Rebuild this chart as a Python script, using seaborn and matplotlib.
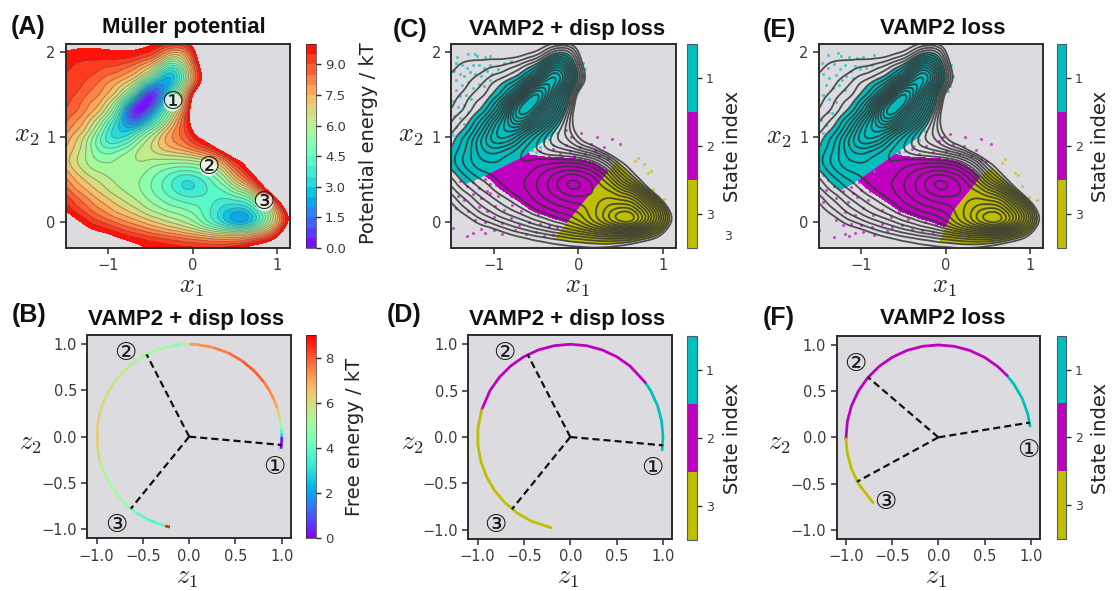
import numpy as np
import matplotlib
matplotlib.use('Agg')
import matplotlib.pyplot as plt
import matplotlib.tri as mtri
from matplotlib.collections import LineCollection
from matplotlib.colors import ListedColormap, BoundaryNorm, Normalize
from matplotlib.cm import ScalarMappable
from matplotlib.patches import Polygon
import seaborn as sns

W, H = 1112, 591
BG = '#dcdce0'
INK = '#2b2b2b'

# energy surface: a coarse grid plus its cell centres
grid_x = [-1.6, -1.4, -1.2, -1.0, -0.8, -0.6, -0.4, -0.2, 0.0, 0.2, 0.4, 0.6, 0.8, 1.0, 1.2]
grid_y = [-0.4, -0.2, 0.0, 0.2, 0.4, 0.6, 0.8, 1.0, 1.2, 1.4, 1.6, 1.8, 2.0, 2.2]
energy_rows = [
    [15, 14, 13.5, 13, 12, 10.4, 10.3, 10.4, 10.5, 10.4, 11, 12, 13, 14, 15],
    [13, 12, 11, 10.6, 10, 9.7, 9.4, 9.1, 8.7, 8.4, 8.2, 8.4, 9.2, 10.2, 14],
    [11.5, 10.4, 9.3, 8.7, 8.1, 7.5, 6.9, 6.3, 5.5, 4.0, 2.3, 1.2, 3.4, 7.0, 11],
    [10, 8.9, 8.1, 7.4, 6.7, 6.0, 5.4, 4.9, 4.6, 4.1, 3.3, 3.4, 5.2, 8.3, 13],
    [8.7, 7.8, 7.0, 6.3, 5.8, 5.4, 4.6, 3.7, 3.2, 4.0, 4.6, 6.2, 9.3, 13, 15],
    [7.9, 6.9, 6.0, 5.7, 5.8, 5.7, 5.0, 4.5, 4.5, 5.0, 6.6, 8.9, 11, 14, 15],
    [7.6, 6.6, 5.5, 5.0, 5.7, 6.4, 6.6, 6.8, 7.1, 8.0, 9.4, 10.6, 13, 15, 15],
    [8.2, 7.0, 5.4, 3.2, 3.3, 5.6, 7.1, 8.3, 9.3, 10.5, 13, 15, 15, 15, 15],
    [8.8, 7.9, 6.5, 4.3, 1.5, 1.5, 4.0, 7.5, 10.5, 14, 15, 15, 15, 15, 15],
    [9.3, 8.7, 7.7, 6.3, 2.9, -1.0, 1.8, 5.4, 10.5, 15, 15, 15, 15, 15, 15],
    [9.6, 9.2, 8.5, 7.6, 6.3, 3.3, 0.9, 3.8, 8.3, 12, 15, 15, 15, 15, 15],
    [9.7, 9.4, 9.1, 8.7, 8.1, 7.0, 4.9, 3.3, 8.0, 12.5, 15, 15, 15, 15, 15],
    [9.7, 9.7, 9.8, 9.9, 9.9, 9.7, 9.0, 7.3, 9.2, 14, 15, 15, 15, 15, 15],
    [10.5, 10.5, 10.5, 11, 11, 11, 10.5, 11.5, 12, 15, 15, 15, 15, 15, 15],
]
mid_x = [-1.5, -1.3, -1.1, -0.9, -0.7, -0.5, -0.3, -0.1, 0.1, 0.3, 0.5, 0.7, 0.9, 1.1]
mid_y = [-0.3, -0.1, 0.1, 0.3, 0.5, 0.7, 0.9, 1.1, 1.3, 1.5, 1.7, 1.9, 2.1]
mid_rows = [
    [14, 13, 12, 11, 10.3, 9.95, 9.7, 9.6, 9.5, 9.5, 9.7, 10.3, 11, 13],
    [12, 10.6, 9.9, 9.3, 8.6, 8.0, 7.4, 6.9, 6.2, 5.5, 5.2, 5.8, 7.6, 10.6],
    [10.2, 9.2, 8.3, 7.5, 6.9, 6.1, 5.6, 5.3, 4.6, 3.5, 2.2, 3.0, 5.4, 9.5],
    [9.3, 8.3, 7.3, 6.5, 5.9, 5.2, 4.5, 4.0, 4.1, 4.2, 4.5, 5.2, 8.5, 13],
    [8.3, 7.2, 6.5, 5.9, 5.6, 5.0, 4.2, 3.2, 3.8, 5.0, 7.3, 9.4, 12, 15],
    [7.2, 6.2, 5.6, 5.7, 5.9, 5.7, 5.5, 5.5, 5.7, 7.1, 9.5, 11.5, 14, 15],
    [7.7, 6.5, 4.6, 4.3, 5.5, 6.5, 7.7, 8.4, 9.6, 11, 14, 15, 15, 15],
    [8.4, 7.5, 5.5, 2.9, 2.9, 5.0, 7.3, 9.0, 12, 15, 15, 15, 15, 15],
    [9.0, 8.4, 7.3, 4.8, -0.3, 1.9, 4.8, 8.7, 14, 15, 15, 15, 15, 15],
    [9.3, 8.8, 8.3, 7.3, 4.5, -0.5, 3.5, 7.5, 13, 15, 15, 15, 15, 15],
    [9.4, 9.2, 8.8, 8.3, 7.5, 5.5, 1.6, 4.7, 9.6, 15, 15, 15, 15, 15],
    [9.7, 9.5, 9.5, 9.5, 9.2, 8.3, 5.5, 6.5, 10.8, 15, 15, 15, 15, 15],
    [10.5, 10.3, 10.2, 10.3, 10.4, 10.2, 9.5, 9.2, 12, 15, 15, 15, 15, 15],
]

c_bound12 = [(-1.6, 0.33), (-1.17, 0.51), (-0.65, 0.77), (-0.26, 1.06), (1.0, 1.4)]
c_bound23 = [(1.0, 1.4), (0.39, 0.63), (0.055, 0.217), (-0.36, -0.3), (-0.5, -0.4)]
e_bound12 = [(-1.6, 0.2), (-1.115, 0.44), (-0.76, 0.69), (-0.22, 1.07), (1.0, 1.4)]
e_bound23 = [(1.0, 1.4), (0.61, 0.69), (0.45, 0.575), (0.095, 0.14), (-0.04, -0.15), (-0.15, -0.4)]

# sparse simulation points
c_dots_1 = [(-1.44, 1.95), (-1.3, 1.98), (-1.22, 1.98), (-1.2, 1.96), (-1.1, 1.95), (-1.05, 1.96), (-1.45, 1.88),
            (-1.38, 1.85), (-1.32, 1.82), (-1.25, 1.85), (-1.18, 1.85), (-1.12, 1.82), (-1.05, 1.85), (-1.47, 1.78),
            (-1.4, 1.75), (-1.35, 1.72), (-1.28, 1.77), (-1.22, 1.74), (-1.15, 1.72), (-1.08, 1.78), (-1.02, 1.75),
            (-0.95, 1.8), (-0.88, 1.88), (-0.8, 1.9), (-1.45, 1.68), (-1.38, 1.62), (-1.3, 1.65), (-1.25, 1.58),
            (-1.18, 1.63), (-1.12, 1.6), (-1.05, 1.68), (-1.45, 1.55), (-1.4, 1.48), (-1.33, 1.5), (-1.27, 1.45),
            (-1.48, 1.42), (-1.42, 1.35), (-1.35, 1.38), (-1.47, 1.25), (-1.4, 1.22), (-1.45, 1.12), (-1.35, 1.15),
            (-1.48, 1.02), (-1.3, 1.3), (0.05, 1.72), (0.08, 1.8), (0.02, 1.62), (-0.02, 1.55), (0.06, 1.88),
            (-0.1, 1.4), (-0.35, 0.98), (-0.25, 1.05), (-0.3, 0.9), (-0.4, 0.95), (-0.45, 0.88), (-0.5, 0.82),
            (-0.55, 0.85), (-1.25, 0.62), (-1.3, 0.58), (-1.35, 0.62), (-1.4, 0.55), (-1.45, 0.6)]
c_dots_2 = [(-0.6, 0.8), (-0.5, 0.76), (-0.45, 0.83), (-0.35, 0.78), (-0.3, 0.86), (-0.22, 0.8), (-0.15, 0.9),
            (-0.1, 0.84), (-0.05, 0.78), (0.02, 0.88), (0.08, 0.8), (0.15, 0.92), (0.2, 0.84), (0.25, 0.78),
            (0.3, 0.88), (0.35, 0.75), (0.22, 1.0), (0.03, 1.05), (-0.08, 1.0), (-0.15, 1.08), (0.4, 0.98),
            (0.5, 0.92), (-1.4, 0.48), (-1.32, 0.42), (-1.25, 0.47), (-1.18, 0.4), (-1.1, 0.5), (-1.05, 0.44),
            (-0.98, 0.54), (-0.92, 0.48), (-0.85, 0.56), (-0.8, 0.62), (-0.75, 0.52), (-0.7, 0.6), (-0.65, 0.66),
            (-0.72, 0.44), (-0.62, 0.54), (-0.58, 0.4), (-0.5, 0.45), (-1.42, 0.3), (-1.35, 0.26), (-1.25, 0.33),
            (-1.15, 0.28), (-1.05, 0.34), (-0.95, 0.3), (-0.88, 0.38), (-0.8, 0.3), (-0.7, 0.28), (-0.62, 0.32),
            (-0.52, 0.25), (-0.45, 0.3), (-0.4, 0.2), (-0.32, 0.24), (-1.45, 0.16), (-1.3, 0.12), (-1.18, 0.17),
            (-1.08, 0.12), (-0.98, 0.18), (-0.88, 0.14), (-0.78, 0.2), (-0.68, 0.12), (-0.58, 0.16), (-0.48, 0.09),
            (-0.38, 0.1), (-0.28, 0.05), (-0.22, 0.14), (-0.18, 0.02), (-1.22, 0.02), (-1.1, 0.0), (-1.0, 0.05),
            (-0.9, -0.02), (-0.8, 0.04), (-0.7, -0.04), (-0.58, 0.0), (-0.45, -0.03), (-0.35, -0.05), (-0.25, -0.07),
            (-1.32, -0.17), (-1.25, -0.14), (-1.15, -0.09), (-1.1, -0.13), (-1.0, -0.1), (-0.9, -0.15), (-0.75, -0.1),
            (-0.62, -0.15), (-0.5, -0.12), (-0.4, -0.17), (-0.3, -0.16), (-1.48, -0.08),
            (-1.0, 0.5), (-0.95, 0.58), (-0.9, 0.53), (-0.88, 0.62), (-0.83, 0.5), (-0.8, 0.56), (-0.78, 0.66),
            (-0.76, 0.46), (-0.72, 0.55), (-0.7, 0.66), (-0.68, 0.5), (-0.66, 0.72), (-0.64, 0.44), (-0.6, 0.62),
            (-0.58, 0.72), (-0.56, 0.52), (-0.54, 0.35), (-0.52, 0.66), (-0.48, 0.58), (-0.46, 0.38), (-0.82, 0.42),
            (-0.9, 0.4), (-0.97, 0.43), (-1.08, 0.36), (-0.76, 0.36), (-0.66, 0.38), (-0.56, 0.28), (-0.42, 0.36),
            (-0.36, 0.3), (-0.3, 0.18), (-0.26, 0.28), (-0.15, 0.07), (-0.12, 0.12), (-0.4, 0.72), (-0.28, 0.74)]
c_dots_3 = [(0.67, 0.72), (0.71, 0.75), (0.83, 0.57), (0.86, 0.6), (0.88, 0.38), (1.02, 0.27), (0.95, 0.3), (0.78, 0.68)]

# sparse simulation points
e_dots_1 = [(-1.4, 1.97), (-1.28, 1.99), (-1.24, 1.96), (-1.15, 1.95), (-1.05, 1.93), (-0.98, 1.95), (-0.85, 1.97),
            (-1.47, 1.87), (-1.4, 1.82), (-1.33, 1.86), (-1.26, 1.8), (-1.2, 1.85), (-1.12, 1.78), (-1.08, 1.84),
            (-1.02, 1.8), (-0.95, 1.82), (-0.88, 1.85), (-1.46, 1.75), (-1.38, 1.7), (-1.3, 1.74), (-1.23, 1.68),
            (-1.18, 1.72), (-1.1, 1.7), (-1.42, 1.62), (-1.34, 1.58), (-1.27, 1.62), (-1.2, 1.56), (-1.45, 1.5),
            (-1.38, 1.45), (-1.3, 1.42), (-1.4, 1.3), (-1.48, 1.2), (-1.42, 1.15), (-1.35, 1.28), (-1.45, 1.05),
            (0.05, 1.6), (0.08, 1.72), (0.02, 1.55), (0.06, 1.85), (-0.32, 0.97), (-0.25, 1.07), (-0.38, 0.9),
            (-0.48, 0.84), (-0.55, 0.8), (-0.62, 0.72), (-0.85, 0.6), (-1.25, 0.56), (-1.3, 0.5), (-1.4, 0.5),
            (-1.46, 0.55)]
e_dots_2 = [(-0.55, 0.82), (-0.48, 0.74), (-0.4, 0.86), (-0.32, 0.8), (-0.24, 0.9), (-0.15, 0.83), (-0.08, 0.95),
            (0.0, 0.84), (0.08, 0.92), (0.15, 0.8), (0.22, 0.9), (0.3, 0.78), (0.36, 0.85), (0.42, 0.74), (0.48, 0.72),
            (0.05, 1.04), (-0.03, 1.0), (0.23, 1.0), (0.42, 0.98), (0.54, 0.92), (-1.42, 0.38), (-1.32, 0.42),
            (-1.22, 0.36), (-1.12, 0.41), (-1.03, 0.47), (-0.95, 0.42), (-0.88, 0.52), (-0.82, 0.44), (-0.74, 0.56),
            (-0.68, 0.48), (-0.62, 0.6), (-0.58, 0.42), (-0.5, 0.5), (-1.45, 0.24), (-1.3, 0.28), (-1.16, 0.24),
            (-1.05, 0.3), (-0.92, 0.26), (-0.82, 0.34), (-0.72, 0.26), (-0.62, 0.3), (-0.52, 0.22), (-0.42, 0.27),
            (-0.32, 0.18), (-0.24, 0.22), (-1.2, 0.12), (-1.08, 0.08), (-0.98, 0.16), (-0.86, 0.08), (-0.76, 0.14),
            (-0.65, 0.06), (-0.55, 0.12), (-0.45, 0.04), (-0.35, 0.08), (-0.25, 0.0), (-0.15, 0.04), (-1.3, 0.02),
            (-1.22, -0.04), (-1.12, -0.02), (-1.0, -0.03), (-0.88, -0.06), (-0.76, -0.02), (-0.64, -0.06), (-0.52, -0.04),
            (-0.4, -0.08), (-0.28, -0.1), (-0.15, -0.12), (-1.32, -0.18), (-1.2, -0.14), (-1.15, -0.17), (-1.08, -0.13),
            (-0.98, -0.12), (-0.85, -0.15), (-0.7, -0.11), (-1.5, -0.1),
            (-0.98, 0.5), (-0.93, 0.46), (-0.88, 0.44), (-0.84, 0.56), (-0.8, 0.48), (-0.78, 0.38), (-0.72, 0.62),
            (-0.7, 0.42), (-0.66, 0.55), (-0.64, 0.66), (-0.6, 0.5), (-0.56, 0.62), (-0.55, 0.36), (-0.52, 0.7),
            (-0.48, 0.42), (-0.46, 0.32), (-0.44, 0.66), (-0.38, 0.34), (-0.35, 0.72), (-0.26, 0.74), (-0.9, 0.36),
            (-1.0, 0.38), (-1.1, 0.34), (-0.66, 0.36), (-0.3, 0.28), (-0.2, 0.12), (-0.12, -0.02), (-0.1, 0.08)]
e_dots_3 = [(0.66, 0.7), (0.7, 0.74), (0.82, 0.58), (0.86, 0.56), (0.9, 0.42), (1.08, 0.26), (0.98, 0.3)]

# latent-space arcs: angle along the unit circle in degrees, read from B, D, F
b_angle = [-7.5, -4, 0, 2, 5, 8, 12, 18, 24, 30, 36, 45, 55, 65, 75, 85, 90, 92, 96, 100, 105, 112, 118, 125, 135,
           145, 155, 165, 175, 185, 195, 205, 215, 225, 230, 235, 240, 245, 250, 255, 257, 258]
b_energy = [0, 0, 0.3, 2.7, 3.8, 4.8, 5.5, 6.3, 7, 7.3, 7.5, 7.9, 8, 7.8, 7.5, 7.3, 7.1, 5.5, 4.8, 4.4, 5, 5.2, 5.2,
            5.3, 5.5, 5.7, 5.9, 6.1, 6.3, 6.3, 6.1, 5.6, 5.2, 5, 4.7, 4.2, 3.9, 3.8, 3.7, 3.9, 8.7, 9]
d_angle_1 = [-8, 0, 10, 20, 30, 36]
d_angle_2 = [36, 50, 60, 70, 80, 90, 100, 110, 120, 130, 140, 150, 163]
d_angle_3 = [163, 175, 185, 195, 205, 215, 225, 235, 245, 258]
f_angle_1 = [7, 15, 25, 35, 42]
f_angle_2 = [42, 50, 60, 70, 80, 90, 100, 110, 120, 130, 140, 150, 160, 170, 181]
f_angle_3 = [181, 190, 200, 210, 225]

# dashed spokes from the origin to each state centre
bd_spokes = [(1.0, -0.09), (-0.46, 0.89), (-0.63, -0.78)]
f_spokes = [(0.99, 0.16), (-0.76, 0.65), (-0.88, -0.48)]

state_ticks = [1, 2, 3]
state_colors = [(0, 0.75, 0.75), (0.75, 0, 0.75), (0.75, 0.75, 0)]
numerals = ['\u2460', '\u2461', '\u2462']

sns.set_theme(style='ticks', color_codes=False)
plt.rcParams['font.family'] = 'DejaVu Sans'
plt.rcParams['mathtext.fontset'] = 'cm'
plt.rcParams['axes.edgecolor'] = INK
plt.rcParams['xtick.color'] = INK
plt.rcParams['ytick.color'] = INK
plt.rcParams['text.color'] = '#111111'

fig = plt.figure(figsize=(W / 100, H / 100), dpi=100)


def box(left, top, right, bottom):
    return [left / W, 1 - bottom / H, (right - left) / W, (bottom - top) / H]


def panel(rect, xlim, ylim, xticks, yticks, xfmt, xname, yname, xpos, ypos, tick_size=10.5):
    ax = fig.add_axes(box(*rect))
    ax.set_facecolor(BG)
    ax.set_xlim(*xlim)
    ax.set_ylim(*ylim)
    ax.set_xticks(xticks)
    ax.set_yticks(yticks)
    ax.set_xticklabels([xfmt.format(t).replace('-', '\u2212') for t in xticks])
    ax.set_yticklabels([xfmt.format(t).replace('-', '\u2212') for t in yticks])
    ax.tick_params(labelsize=tick_size, length=4.5, width=1.1, pad=3, labelcolor='#3a3a3a')
    for s in ax.spines.values():
        s.set_linewidth(1.4)
    ax.set_xlabel(xname, fontsize=19)
    ax.set_ylabel(yname, fontsize=19, rotation=0)
    ax.xaxis.set_label_coords(xpos[0] / W, 1 - xpos[1] / H, transform=fig.transFigure)
    ax.yaxis.set_label_coords(ypos[0] / W, 1 - ypos[1] / H, transform=fig.transFigure)
    ax.xaxis.label.set_verticalalignment('center')
    ax.yaxis.label.set_verticalalignment('center')
    ax.yaxis.label.set_horizontalalignment('center')
    return ax


def head(letter, lpos, title, tpos):
    fig.text(lpos[0] / W, 1 - lpos[1] / H, letter, fontsize=18, fontweight='bold',
             family='Liberation Sans', va='center', color='#111111')
    fig.text(tpos[0] / W, 1 - tpos[1] / H, title, fontsize=16, fontweight='bold',
             family='Liberation Sans', va='center', ha='center', color='#111111')


def bar_label(text, pos):
    fig.text(pos[0] / W, 1 - pos[1] / H, text, fontsize=14, rotation=90, va='center', ha='center', color='#222222')


def state_bar(rect, label_pos):
    cax = fig.add_axes(box(*rect))
    norm = BoundaryNorm([0.5, 1.5, 2.5, 3.5], 3)
    cb = fig.colorbar(ScalarMappable(norm=norm, cmap=ListedColormap(state_colors)), cax=cax, ticks=state_ticks)
    cb.minorticks_off()
    cax.invert_yaxis()
    cax.tick_params(labelsize=9, length=3.5, width=1, pad=3, labelcolor='#3a3a3a')
    cb.outline.set_edgecolor('#4a5a70')
    cb.outline.set_linewidth(0.8)
    bar_label('State index', label_pos)


def circled(ax, points, fill=False):
    for n, (px, py) in zip(numerals, points):
        if fill:
            ax.scatter([px], [py], s=170, color='white', alpha=0.72, linewidths=0, zorder=5)
        ax.text(px, py, n, fontsize=18, ha='center', va='center', color='#1a1a1a', zorder=6)


def spokes(ax, ends):
    for ex, ey in ends:
        sns.lineplot(x=[0, ex], y=[0, ey], ax=ax, color='#111111', lw=1.6, linestyle=(0, (3.2, 1.8)),
                     sort=False, estimator=None, zorder=4)


def arc(ax, angles, color):
    t = np.radians(angles)
    sns.lineplot(x=np.cos(t), y=np.sin(t), ax=ax, color=color, lw=2.0, sort=False, estimator=None, zorder=3)


def soften(field, sigma):
    # blur so the hand-read grid does not show in the contours
    r = int(3 * sigma)
    k = np.exp(-0.5 * (np.arange(-r, r + 1) / sigma) ** 2)
    k /= k.sum()
    pad = np.pad(field, r, mode='edge')
    pad = np.apply_along_axis(lambda v: np.convolve(v, k, mode='same'), 0, pad)
    pad = np.apply_along_axis(lambda v: np.convolve(v, k, mode='same'), 1, pad)
    return pad[r:-r, r:-r]


# shared surface: cubic fit through the read points, drawn on a fine mesh
gx, gy = np.meshgrid(grid_x, grid_y)
mx, my = np.meshgrid(mid_x, mid_y)
pts_x = np.concatenate([gx.ravel(), mx.ravel()])
pts_y = np.concatenate([gy.ravel(), my.ravel()])
pts_u = np.concatenate([np.array(energy_rows, dtype=float).ravel(), np.array(mid_rows, dtype=float).ravel()])
tri = mtri.Triangulation(pts_x, pts_y)
surface = mtri.CubicTriInterpolator(tri, pts_u, kind='min_E')
fx, fy = np.meshgrid(np.linspace(-1.6, 1.2, 281), np.linspace(-0.4, 2.2, 261))
fine_energy = np.clip(soften(np.ma.filled(surface(fx, fy), 15.0), 7), 0.01, None)

XLIM = (-1.503, 1.154)
YLIM = (-0.307, 2.10)
band_levels = np.arange(0, 10.01, 0.5)
line_levels = np.arange(0.5, 9.6, 0.5)

# (A)
ax_a = panel((66, 44, 290, 248), XLIM, YLIM, [-1, 0, 1], [0, 1, 2], '{:d}', '$x_1$', '$x_2$', (191, 286), (27, 135))
filled = ax_a.contourf(fx, fy, fine_energy, levels=band_levels, cmap='rainbow')
ax_a.contour(fx, fy, fine_energy, levels=line_levels, colors='#555555', linewidths=0.8, alpha=0.45)
circled(ax_a, [(-0.245, 1.42), (0.18, 0.654), (0.84, 0.24)], fill=True)
head('(A)', (11, 27), 'M\u00fcller potential', (184, 28))
cax_a = fig.add_axes(box(306, 44, 316, 248))
cb_a = fig.colorbar(filled, cax=cax_a, ticks=np.arange(0, 9.1, 1.5), format='%.1f')
cax_a.tick_params(labelsize=9.5, length=3.5, width=1, pad=3, labelcolor='#3a3a3a')
cb_a.outline.set_linewidth(0.5)
bar_label('Potential energy / kT', (368, 143))


def state_map(ax, bound12, bound23, dots, limits):
    b12 = list(bound12)
    b23 = list(bound23)
    regions = [b12 + [(1.3, 1.4), (1.3, 2.3), (-1.6, 2.3)],
               b12 + b23[1:] + [(-1.6, -0.4)],
               b23 + [(1.3, -0.4), (1.3, 1.4)]]
    for region, color, limit, pts in zip(regions, state_colors, limits, dots):
        cs = ax.contourf(fx, fy, fine_energy, levels=[0, limit], colors=[color], zorder=1)
        cs.set_clip_path(Polygon(region, transform=ax.transData))
        px, py = zip(*pts)
        sns.scatterplot(x=list(px), y=list(py), ax=ax, color=color, s=5, alpha=0.65, linewidth=0, zorder=2)
    ax.contour(fx, fy, fine_energy, levels=line_levels, colors='#363636', linewidths=1.3, alpha=0.85, zorder=3)


# (C)
ax_c = panel((451.3, 44, 675.7, 247.5), XLIM, YLIM, [-1, 0, 1], [0, 1, 2], '{:d}', '$x_1$', '$x_2$', (577, 286), (411, 135))
state_map(ax_c, c_bound12, c_bound23, (c_dots_1, c_dots_2, c_dots_3), (7.4, 6.2, 9.0))
head('(C)', (393, 30), 'VAMP2 + disp loss', (567, 29))
state_bar((687, 44, 697, 248), (732, 147))
fig.text(728 / W, 1 - 236 / H, '3', fontsize=9, ha='center', va='center', color='#3a3a3a')

# (E)
ax_e = panel((819, 44, 1043.3, 248), XLIM, YLIM, [-1, 0, 1], [0, 1, 2], '{:d}', '$x_1$', '$x_2$', (944, 286), (779, 137))
state_map(ax_e, e_bound12, e_bound23, (e_dots_1, e_dots_2, e_dots_3), (7.4, 6.2, 9.0))
head('(E)', (763, 30), 'VAMP2 loss', (943, 28))
state_bar((1056.7, 44, 1065.7, 248), (1100, 147))

ZLIM = (-1.1, 1.1)
zticks = [-1.0, -0.5, 0.0, 0.5, 1.0]

# (B)
ax_b = panel((87.3, 335, 291, 538.3), ZLIM, ZLIM, zticks, zticks, '{:.1f}', '$z_1$', '$z_2$', (187, 577), (30, 443))
theta = np.radians(b_angle)
arc_xy = np.column_stack([np.cos(theta), np.sin(theta)])
segments = np.stack([arc_xy[:-1], arc_xy[1:]], axis=1)
lc = LineCollection(segments, cmap='rainbow', norm=Normalize(0, 9), linewidths=2.0, zorder=3)
lc.set_array(np.array(b_energy)[1:])
ax_b.add_collection(lc)
spokes(ax_b, bd_spokes)
circled(ax_b, [(0.92, -0.333), (-0.69, 0.91), (-0.79, -0.953)])
head('(B)', (12, 315), 'VAMP2 + disp loss', (186, 320))
cax_b = fig.add_axes(box(306, 335, 316, 538.3))
cb_b = fig.colorbar(lc, cax=cax_b, ticks=[0, 2, 4, 6, 8])
cax_b.tick_params(labelsize=9.5, length=3.5, width=1, pad=3, labelcolor='#3a3a3a')
cb_b.outline.set_linewidth(0.5)
bar_label('Free energy / kT', (355, 437))

# (D)
ax_d = panel((468.3, 335, 672.3, 539), ZLIM, ZLIM, zticks, zticks, '{:.1f}', '$z_1$', '$z_2$', (568, 577), (412, 443))
for angles, color in zip((d_angle_1, d_angle_2, d_angle_3), state_colors):
    arc(ax_d, angles, color)
spokes(ax_d, bd_spokes)
circled(ax_d, [(0.89, -0.333), (-0.71, 0.91), (-0.81, -0.953)])
head('(D)', (387, 315), 'VAMP2 + disp loss', (567, 319))
state_bar((687, 335.7, 697, 540), (732, 438))

# (F)
ax_f = panel((836.7, 335.7, 1040, 539), ZLIM, ZLIM, zticks, zticks, '{:.1f}', '$z_1$', '$z_2$', (936, 577), (779, 443))
for angles, color in zip((f_angle_1, f_angle_2, f_angle_3), state_colors):
    arc(ax_f, angles, color)
spokes(ax_f, f_spokes)
circled(ax_f, [(0.97, -0.135), (-0.90, 0.79), (-0.574, -0.705)])
head('(F)', (763, 318), 'VAMP2 loss', (943, 319))
state_bar((1056.7, 335.7, 1065.7, 539), (1100, 438))

fig.savefig('out.png', dpi=100)
